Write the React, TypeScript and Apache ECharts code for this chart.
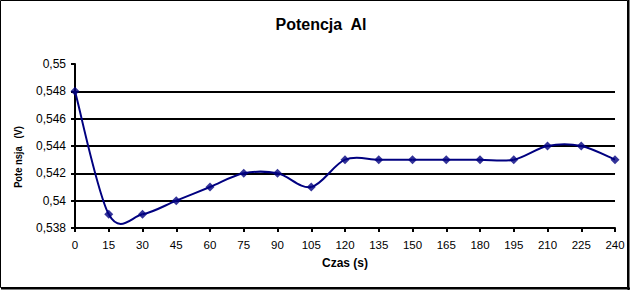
import React, { useEffect, useRef } from "react";
import * as echarts from "echarts";

const titleText = "Potencja  Al";
const xAxisName = "Czas (s)";
const yAxisName = "Pote nsja   (V)";
const times = [0, 15, 30, 45, 60, 75, 90, 105, 120, 135, 150, 165, 180, 195, 210, 225, 240];
const potentials = [0.548, 0.539, 0.539, 0.54, 0.541, 0.542, 0.542, 0.541, 0.543, 0.543, 0.543, 0.543, 0.543, 0.543, 0.544, 0.544, 0.543];

const FONT = "'Liberation Sans', Arial, sans-serif";
const NAVY = "#000080";

export default function App() {
  const ref = useRef<HTMLDivElement>(null);
  useEffect(() => {
    document.body.style.margin = "0";
    const chart = echarts.init(ref.current!, null, { renderer: "svg" });
    const n = times.length;
    const pts = times.map((t, i) => [t, potentials[i]]);
    chart.setOption({
      animation: false,
      backgroundColor: "#ffffff",
      title: {
        text: titleText,
        left: 316,
        top: 11,
        textAlign: "center",
        textStyle: { fontFamily: FONT, fontSize: 16, fontWeight: "bold", color: "#000" },
      },
      grid: { left: 75, right: 15, top: 64, bottom: 63 },
      xAxis: {
        type: "value",
        min: 0,
        max: 240,
        interval: 15,
        name: xAxisName,
        nameLocation: "middle",
        nameGap: 29,
        nameTextStyle: { fontFamily: FONT, fontSize: 12, fontWeight: "bold", color: "#000" },
        axisLine: { show: true, lineStyle: { color: "#000", width: 2 } },
        axisTick: { show: true, inside: false, length: 4, lineStyle: { color: "#000", width: 2 } },
        axisLabel: { fontFamily: FONT, fontSize: 11.5, color: "#000", margin: 11 },
        splitLine: { show: false },
      },
      yAxis: {
        type: "value",
        min: 0.538,
        max: 0.55,
        interval: 0.002,
        axisLine: { show: true, lineStyle: { color: "#000", width: 2 } },
        axisTick: { show: true, inside: false, length: 4, lineStyle: { color: "#000", width: 2 } },
        axisLabel: {
          fontFamily: FONT,
          fontSize: 12,
          color: "#000",
          margin: 9,
          formatter: (v: number) => String(+v.toFixed(3)).replace(".", ","),
        },
        splitLine: {
          show: true,
          lineStyle: { color: "#000", width: 2 },
          showMinLine: false,
          showMaxLine: false,
        },
      },
      series: [
        {
          type: "custom",
          data: pts,
          clip: false,
          renderItem: (params: any, api: any) => {
            const i = params.dataIndex;
            if (i >= n - 1) return null;
            const c = (j: number) => {
              const k = Math.max(0, Math.min(n - 1, j));
              return api.coord(pts[k]);
            };
            const p0 = c(i - 1);
            const p1 = c(i);
            const p2 = c(i + 1);
            const p3 = c(i + 2);
            const t = 1 / 6;
            return {
              type: "bezierCurve",
              shape: {
                x1: p1[0],
                y1: p1[1],
                x2: p2[0],
                y2: p2[1],
                cpx1: p1[0] + (p2[0] - p0[0]) * t,
                cpy1: p1[1] + (p2[1] - p0[1]) * t,
                cpx2: p2[0] - (p3[0] - p1[0]) * t,
                cpy2: p2[1] - (p3[1] - p1[1]) * t,
              },
              style: { stroke: NAVY, lineWidth: 2, fill: "none" },
            };
          },
          z: 3,
        },
        {
          type: "scatter",
          data: pts,
          symbol: "diamond",
          symbolSize: 9,
          itemStyle: { color: NAVY },
          z: 4,
        },
      ],
      graphic: [
        {
          type: "text",
          x: 18,
          y: 157,
          rotation: Math.PI / 2,
          scaleX: 0.85,
          style: {
            text: yAxisName,
            fontFamily: FONT,
            fontSize: 11,
            fontWeight: "bold",
            fill: "#000",
            align: "center",
            verticalAlign: "middle",
          },
        },
        {
          type: "rect",
          shape: { x: 0.5, y: 0.5, width: 627, height: 287 },
          style: { fill: "none", stroke: "#000", lineWidth: 1 },
        },
        {
          type: "line",
          shape: { x1: 628.5, y1: 0, x2: 628.5, y2: 290 },
          style: { stroke: "#000", lineWidth: 2 },
        },
        {
          type: "line",
          shape: { x1: 1, y1: 288.5, x2: 630, y2: 288.5 },
          style: { stroke: "#000", lineWidth: 2 },
        },
      ],
    });
    return () => chart.dispose();
  }, []);
  return <div ref={ref} style={{ width: 630, height: 291 }} />;
}
